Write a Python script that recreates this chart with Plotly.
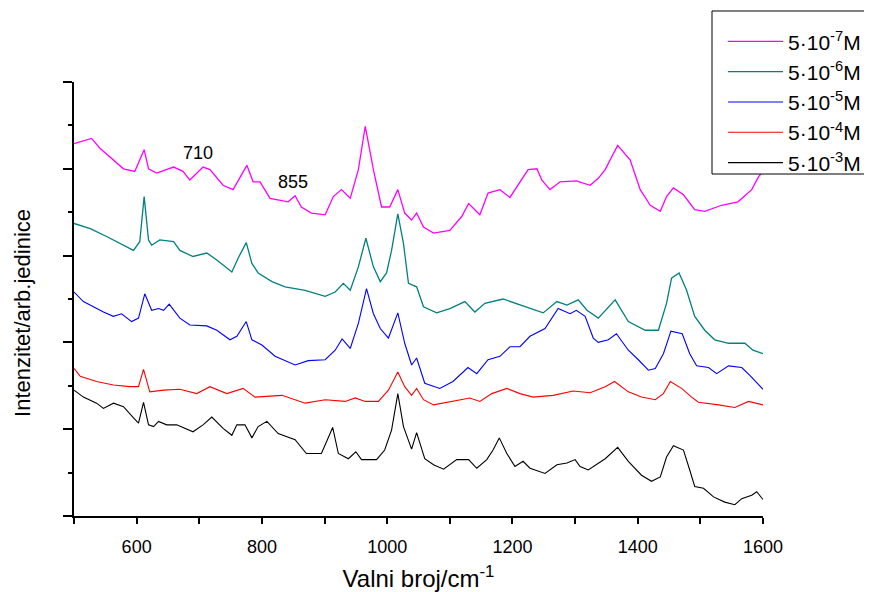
import plotly.graph_objects as go

# Raman spectra, intensities in arbitrary units (curves are offset vertically)
wn_7 = [500, 528, 541, 579, 597, 612, 619, 632, 659, 674, 685, 706, 717, 738, 754, 776, 786, 797,
        813, 842, 853, 863, 879, 901, 914, 927, 941, 954, 965, 978, 991, 1004, 1017, 1028, 1039,
        1047, 1058, 1074, 1100, 1119, 1130, 1148, 1161, 1180, 1196, 1207, 1225, 1239, 1247, 1260,
        1276, 1302, 1324, 1337, 1348, 1368, 1388, 1404, 1420, 1436, 1446, 1457, 1473, 1491, 1507,
        1534, 1560, 1582, 1593, 1600]
int_7 = [4.29, 4.35, 4.24, 4.00, 3.97, 4.22, 4.00, 3.95, 4.02, 3.97, 3.87, 4.02, 3.99, 3.81, 3.76,
         4.04, 3.85, 3.85, 3.66, 3.62, 3.69, 3.56, 3.49, 3.47, 3.68, 3.76, 3.66, 3.99, 4.49, 3.99,
         3.56, 3.56, 3.76, 3.49, 3.41, 3.49, 3.33, 3.26, 3.29, 3.45, 3.60, 3.47, 3.72, 3.76, 3.67,
         3.79, 3.99, 4.00, 3.87, 3.76, 3.85, 3.86, 3.81, 3.89, 3.99, 4.27, 4.10, 3.76, 3.58, 3.51,
         3.68, 3.78, 3.70, 3.53, 3.51, 3.58, 3.62, 3.76, 3.91, 3.97]

wn_6 = [500, 526, 552, 579, 595, 605, 612, 619, 624, 637, 659, 669, 690, 712, 728, 752, 762, 775,
        784, 794, 816, 837, 869, 901, 917, 930, 941, 954, 966, 978, 989, 999, 1007, 1017, 1026,
        1034, 1047, 1058, 1079, 1100, 1124, 1140, 1156, 1185, 1212, 1249, 1271, 1287, 1305, 1319,
        1337, 1364, 1385, 1412, 1433, 1446, 1454, 1466, 1478, 1491, 1507, 1523, 1545, 1571, 1584,
        1600]
int_6 = [3.37, 3.31, 3.22, 3.12, 3.06, 3.16, 3.68, 3.18, 3.12, 3.18, 3.16, 3.06, 2.99, 3.03, 2.95,
         2.81, 2.97, 3.15, 2.91, 2.80, 2.70, 2.64, 2.60, 2.53, 2.58, 2.68, 2.60, 2.87, 3.20, 2.87,
         2.70, 2.80, 3.06, 3.48, 3.14, 2.68, 2.64, 2.41, 2.34, 2.39, 2.47, 2.35, 2.45, 2.50, 2.43,
         2.34, 2.47, 2.43, 2.49, 2.37, 2.28, 2.49, 2.24, 2.14, 2.14, 2.45, 2.74, 2.80, 2.60, 2.30,
         2.14, 2.03, 1.99, 1.99, 1.91, 1.87]

wn_5 = [500, 515, 531, 547, 563, 576, 592, 603, 613, 624, 635, 643, 652, 669, 685, 712, 728, 749,
        760, 775, 784, 800, 821, 853, 874, 901, 917, 928, 941, 954, 967, 978, 989, 1002, 1017,
        1028, 1039, 1047, 1060, 1084, 1105, 1129, 1143, 1161, 1180, 1196, 1212, 1228, 1252, 1273,
        1292, 1302, 1316, 1329, 1337, 1353, 1366, 1385, 1401, 1417, 1428, 1441, 1453, 1471, 1483,
        1494, 1513, 1526, 1545, 1566, 1579, 1600]
int_5 = [2.58, 2.47, 2.41, 2.35, 2.30, 2.33, 2.24, 2.28, 2.56, 2.37, 2.39, 2.37, 2.44, 2.28, 2.20,
         2.19, 2.14, 2.03, 2.07, 2.24, 2.03, 1.97, 1.84, 1.74, 1.79, 1.80, 1.91, 2.04, 1.93, 2.22,
         2.62, 2.33, 2.16, 2.05, 2.34, 1.99, 1.74, 1.82, 1.53, 1.47, 1.55, 1.71, 1.64, 1.80, 1.84,
         1.95, 1.95, 2.07, 2.16, 2.39, 2.33, 2.37, 2.30, 2.05, 2.00, 2.03, 2.10, 1.91, 1.80, 1.68,
         1.70, 1.87, 2.13, 2.10, 1.87, 1.73, 1.71, 1.64, 1.73, 1.71, 1.62, 1.46]

wn_4 = [500, 510, 536, 563, 589, 603, 611, 621, 643, 669, 696, 717, 744, 770, 789, 832, 869, 901,
        933, 949, 965, 986, 1002, 1017, 1028, 1039, 1047, 1058, 1074, 1105, 1132, 1148, 1167,
        1191, 1212, 1233, 1265, 1297, 1324, 1348, 1363, 1385, 1406, 1428, 1441, 1452, 1470, 1486,
        1497, 1529, 1555, 1577, 1600]
int_4 = [1.70, 1.61, 1.55, 1.51, 1.49, 1.49, 1.69, 1.43, 1.45, 1.46, 1.41, 1.49, 1.41, 1.47, 1.37,
         1.39, 1.30, 1.34, 1.32, 1.36, 1.32, 1.32, 1.45, 1.66, 1.49, 1.39, 1.47, 1.34, 1.28, 1.32,
         1.36, 1.32, 1.41, 1.47, 1.41, 1.37, 1.39, 1.44, 1.42, 1.49, 1.55, 1.43, 1.37, 1.34, 1.41,
         1.55, 1.47, 1.37, 1.31, 1.28, 1.25, 1.32, 1.28]

wn_3 = [500, 515, 536, 547, 563, 579, 595, 603, 611, 619, 627, 635, 648, 664, 690, 706, 720, 738,
        752, 760, 773, 784, 794, 808, 826, 853, 871, 895, 913, 922, 938, 950, 959, 983, 996, 1007,
        1017, 1026, 1039, 1047, 1060, 1074, 1090, 1111, 1130, 1143, 1159, 1169, 1179, 1191, 1204,
        1217, 1228, 1252, 1271, 1287, 1300, 1308, 1321, 1337, 1348, 1368, 1385, 1406, 1422, 1436,
        1446, 1457, 1473, 1483, 1491, 1505, 1521, 1539, 1555, 1566, 1582, 1590, 1600]
int_3 = [1.45, 1.37, 1.30, 1.24, 1.30, 1.26, 1.13, 1.07, 1.31, 1.05, 1.03, 1.09, 1.05, 1.05, 0.97,
         1.05, 1.14, 1.01, 0.93, 1.05, 1.05, 0.90, 1.03, 1.09, 0.95, 0.88, 0.72, 0.72, 1.02, 0.72,
         0.66, 0.74, 0.65, 0.65, 0.76, 0.99, 1.41, 1.03, 0.77, 0.96, 0.66, 0.59, 0.54, 0.65, 0.65,
         0.55, 0.65, 0.76, 0.90, 0.72, 0.57, 0.63, 0.55, 0.49, 0.59, 0.61, 0.65, 0.57, 0.53, 0.61,
         0.66, 0.79, 0.63, 0.47, 0.40, 0.45, 0.68, 0.81, 0.76, 0.53, 0.34, 0.32, 0.22, 0.16, 0.13,
         0.20, 0.24, 0.28, 0.19]

series_names = ["5·10<sup>-7</sup>M", "5·10<sup>-6</sup>M", "5·10<sup>-5</sup>M",
                "5·10<sup>-4</sup>M", "5·10<sup>-3</sup>M"]
series_x = [wn_7, wn_6, wn_5, wn_4, wn_3]
series_y = [int_7, int_6, int_5, int_4, int_3]
colors = ["#FF00FF", "#008080", "#0000FF", "#FF0000", "#000000"]

peak_labels = ["710", "855"]
peak_x = [698, 850]
peak_y = [4.18, 3.85]

FONT = "Liberation Sans, Arial, sans-serif"

fig = go.Figure()
for i in range(len(series_names)):
    fig.add_trace(go.Scatter(x=series_x[i], y=series_y[i], mode="lines", name=series_names[i],
                             legendgroup=str(i),
                             line=dict(color=colors[i], width=1.3 if i < 2 else 1.1)))

for lbl, px_, py_ in zip(peak_labels, peak_x, peak_y):
    fig.add_annotation(x=px_, y=py_, text=lbl, showarrow=False,
                       font=dict(size=18, color="black", family=FONT))

# y title placed by hand (sits a bit below the axis centre in the original)
fig.add_annotation(xref="paper", yref="paper", x=-0.074, y=0.468, xanchor="center", yanchor="middle",
                   text="Intenzitet/arb.jedinice", textangle=-90, showarrow=False,
                   font=dict(size=22, color="black", family=FONT))

# legend frame
fig.add_shape(type="rect", xref="paper", yref="paper", x0=0.926, x1=1.19, y0=0.788, y1=1.1636,
              line=dict(color="black", width=1), fillcolor="white", layer="above")

fig.update_layout(
    width=864, height=584,
    margin=dict(l=66, r=109, t=74, b=76, autoexpand=False),
    paper_bgcolor="white", plot_bgcolor="white",
    font=dict(family=FONT, color="black"),
    legend=dict(x=0.942, y=1.14, xanchor="left", yanchor="top",
                borderwidth=0, bgcolor="rgba(0,0,0,0)",
                font=dict(size=21), tracegroupgap=0, itemwidth=55),
)
fig.update_xaxes(range=[500, 1600], dtick=200, tick0=0, showgrid=False, zeroline=False,
                 showline=True, linecolor="black", linewidth=2, automargin=False,
                 ticks="outside", ticklen=6, tickwidth=1.5, tickcolor="black",
                 tickfont=dict(size=18), ticklabelstandoff=7,
                 minor=dict(dtick=100, ticks="outside", ticklen=6, tickwidth=1.5, tickcolor="black"),
                 title=dict(text="Valni broj/cm<sup>-1</sup>", font=dict(size=24), standoff=18))
fig.update_yaxes(range=[0, 5], dtick=1, showgrid=False, zeroline=False, automargin=False,
                 showline=True, linecolor="black", linewidth=2, showticklabels=False,
                 ticks="outside", ticklen=9, tickwidth=1.5, tickcolor="black",
                 minor=dict(dtick=0.5, ticks="outside", ticklen=4, tickwidth=1.5, tickcolor="black"))

fig.write_html("out.html")
